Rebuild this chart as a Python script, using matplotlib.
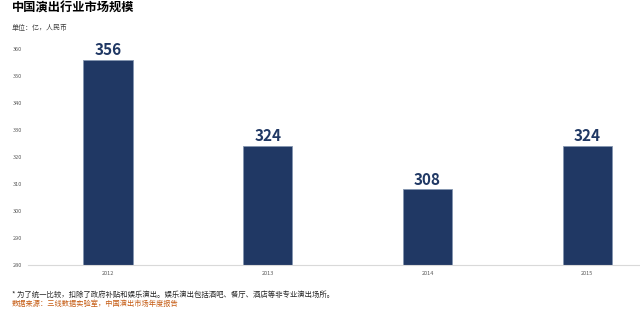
import matplotlib
matplotlib.use("Agg")
import matplotlib.pyplot as plt

plt.rcParams['font.family'] = ['Noto Sans CJK SC', 'DejaVu Sans']

years = ["2012", "2013", "2014", "2015"]
values = [356, 324, 308, 324]
yticks = [280, 290, 300, 310, 320, 330, 340, 350, 360]

fig = plt.figure(figsize=(6.4, 3.15), dpi=100)
ax = fig.add_axes([28/640, 1-265/315, 612/640, (265-49)/315])

bar_color = "#203864"
x = list(range(len(years)))
bars = ax.bar(x, [v - 280 for v in values], bottom=280, width=0.31,
              color=bar_color, edgecolor="#8496b0", linewidth=0.6)
for xi, v in zip(x, values):
    ax.text(xi, v + 0.7, str(v), ha="center", va="bottom",
            fontsize=11, fontweight="bold", color="#203864")

ax.set_xlim(-0.5, 3.33)
ax.set_ylim(280, 360)
ax.set_yticks(yticks)
ax.set_yticklabels([str(t) for t in yticks], fontsize=4, color="#595959")
ax.set_xticks(x)
ax.set_xticklabels(years, fontsize=4, color="#595959")
ax.tick_params(length=0, pad=4)
for s in ["top", "right", "left"]:
    ax.spines[s].set_visible(False)
ax.spines["bottom"].set_color("#d9d9d9")
ax.spines["bottom"].set_linewidth(0.8)

fig.text(12/640, 1-8/315, "中国演出行业市场规模", fontsize=8.8, fontweight="bold",
         color="#000000", va="center", ha="left")
fig.text(12/640, 1-28/315, "单位：亿，人民币", fontsize=5, style="italic",
         color="#404040", va="center", ha="left")
fig.text(12/640, 1-295/315, "* 为了统一比较，扣除了政府补贴和娱乐演出。娱乐演出包括酒吧、餐厅、酒店等非专业演出场所。",
         fontsize=5.3, style="italic", color="#262626", va="center", ha="left")
fig.text(12/640, 1-304/315, "数据来源：三线数据实验室，中国演出市场年度报告",
         fontsize=5.2, style="italic", color="#c55a11", va="center", ha="left")

fig.savefig("out.png", dpi=100)
